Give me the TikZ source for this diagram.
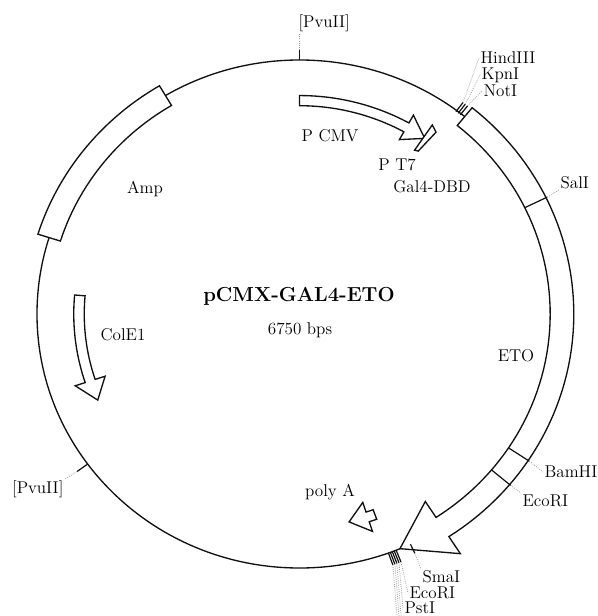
\documentclass[tikz,border=0pt]{standalone}
\usepackage{tikz}
\definecolor{Ink}{HTML}{111111}
\definecolor{Lead}{HTML}{9A9A9A}

\begin{document}
\begin{tikzpicture}[x=0.75pt, y=-0.75pt,
  every node/.style={font=\fontsize{12.8}{15}\selectfont, inner sep=1pt},
  backbone/.style={draw=Ink, line width=1pt},
  feature/.style={draw=Ink, fill=white, line width=1pt, line join=miter},
  site/.style={draw=Ink, line width=0.9pt},
  lead/.style={draw=Lead, densely dotted, line width=0.6pt}]
  \useasboundingbox (0,0) rectangle (597,616);
  \draw[backbone] (299.5,314) ellipse [x radius=196.875pt, y radius=190.5pt];
  \begin{scope}[shift={(299.5,314)}, x=196.875pt, y=190.5pt]
    % Amp box
    \draw[feature] plot[domain=120.7:162.5, samples=30] ({1.045*cos(\x)}, {1.045*sin(\x)})
      -- plot[domain=162.5:120.7, samples=30] ({0.955*cos(\x)}, {0.955*sin(\x)}) -- cycle;
    % Gal4-DBD + ETO
    \draw[feature] plot[domain=51:-57, samples=60] ({1.045*cos(\x)}, {1.045*sin(\x)})
      -- (-57:1.125) -- (-67.5:1) -- (-57:0.88)
      -- plot[domain=-57:51, samples=60] ({0.955*cos(\x)}, {0.955*sin(\x)}) -- cycle;
    % P CMV
    \draw[feature] plot[domain=90:61, samples=30] ({0.86*cos(\x)}, {0.86*sin(\x)})
      -- (61:0.895) -- (55.4:0.84) -- (61:0.785)
      -- plot[domain=61:90, samples=30] ({0.82*cos(\x)}, {0.82*sin(\x)}) -- cycle;
    % P T7
    \draw[feature] (55.8:0.90) -- (54.0:0.885) -- (54.8:0.785) -- (55.8:0.78) -- cycle;
    % ColE1
    \draw[feature] plot[domain=175:198.3, samples=30] ({0.82*cos(\x)}, {0.82*sin(\x)})
      -- (198.3:0.78) -- (203.8:0.84) -- (198.3:0.90)
      -- plot[domain=198.3:175, samples=30] ({0.86*cos(\x)}, {0.86*sin(\x)}) -- cycle;
    % poly A
    \draw[feature] plot[domain=-70:-72, samples=5] ({0.86*cos(\x)}, {0.86*sin(\x)})
      -- (-72:0.90) -- (-77:0.84) -- (-72:0.78)
      -- plot[domain=-72:-70, samples=5] ({0.82*cos(\x)}, {0.82*sin(\x)}) -- cycle;

    % restriction sites
    \draw[site] (90:1) -- (90:1.04) coordinate (pvuTop);
    \draw[site] (216.2:1) -- (216.2:1.05) coordinate (pvuLow);
    \draw[site] (53.2:0.995) -- (53.2:1.04) coordinate (hind);
    \draw[site] (52.6:0.995) -- (52.6:1.04) coordinate (kpn);
    \draw[site] (52.0:0.995) -- (52.0:1.04) coordinate (nott);
    \draw[site] (26:0.955) -- (26:1.05) coordinate (sal);
    \draw[site] (-33.5:0.955) -- (-33.5:1.05) coordinate (bam);
    \draw[site] (-40:0.955) -- (-40:1.05) coordinate (eco);
    \draw[site] (-65:1) -- (-65:1.04) coordinate (sma);
    \foreach \t [count=\i] in {-68.4,-68.85,-69.3,-69.75,-70.2}
      \draw[site] (\t:1) -- (\t:1.05) coordinate (mcs\i);
  \end{scope}

  % site labels
  \node (lPvuTop) [anchor=south west] at (297,33) {[PvuII]};
  \node (lHind) [anchor=west] at (479,58) {HindIII};
  \node (lKpn) [anchor=west] at (480,75) {KpnI};
  \node (lNot) [anchor=west] at (482,91) {NotI};
  \node (lSal) [anchor=south west] at (559,190) {SalI};
  \node (lBam) [anchor=west] at (543,472) {BamHI};
  \node (lEco) [anchor=north west] at (521,493) {EcoRI};
  \node (lSma) [anchor=north west] at (421,569) {SmaI};
  \node (lEcoB) [anchor=west] at (408,593) {EcoRI};
  \node (lPst) [anchor=west] at (403,608) {PstI};
  \node (lPvuLow) [anchor=north east] at (65,479) {[PvuII]};
  \coordinate (offA) at (401,616);
  \coordinate (offB) at (399,616);
  \coordinate (offC) at (397,616);

  \draw[lead] (pvuTop) -- (pvuTop |- lPvuTop.south);
  \draw[lead] (hind) -- (lHind.west);
  \draw[lead] (kpn) -- (lKpn.west);
  \draw[lead] (nott) -- (lNot.west);
  \draw[lead] (sal) -- (lSal.south west);
  \draw[lead] (bam) -- (lBam.west);
  \draw[lead] (eco) -- (lEco.north west);
  \draw[lead] (sma) -- (lSma.north west);
  \draw[lead] (mcs1) -- (lEcoB.west);
  \draw[lead] (mcs2) -- (lPst.west);
  \draw[lead] (mcs3) -- (offA);
  \draw[lead] (mcs4) -- (offB);
  \draw[lead] (mcs5) -- (offC);
  \draw[lead] (pvuLow) -- (lPvuLow.north east);

  % feature labels
  \node (lAmp) at (145,189) {Amp};
  \node (lCol) at (123,335) {ColE1};
  \node (lCmv) at (330,136) {P CMV};
  \node (lTseven) at (397,165) {P T7};
  \node (lGal) at (432,187) {Gal4-DBD};
  \node (lEto) at (516,356) {ETO};
  \node (lPolyA) at (330,492) {poly A};
  \node (lName) [font=\fontsize{15.2}{18}\selectfont\bfseries] at (299,296) {pCMX-GAL4-ETO};
  \node (lSize) at (300,330) {6750 bps};
\end{tikzpicture}
\end{document}
